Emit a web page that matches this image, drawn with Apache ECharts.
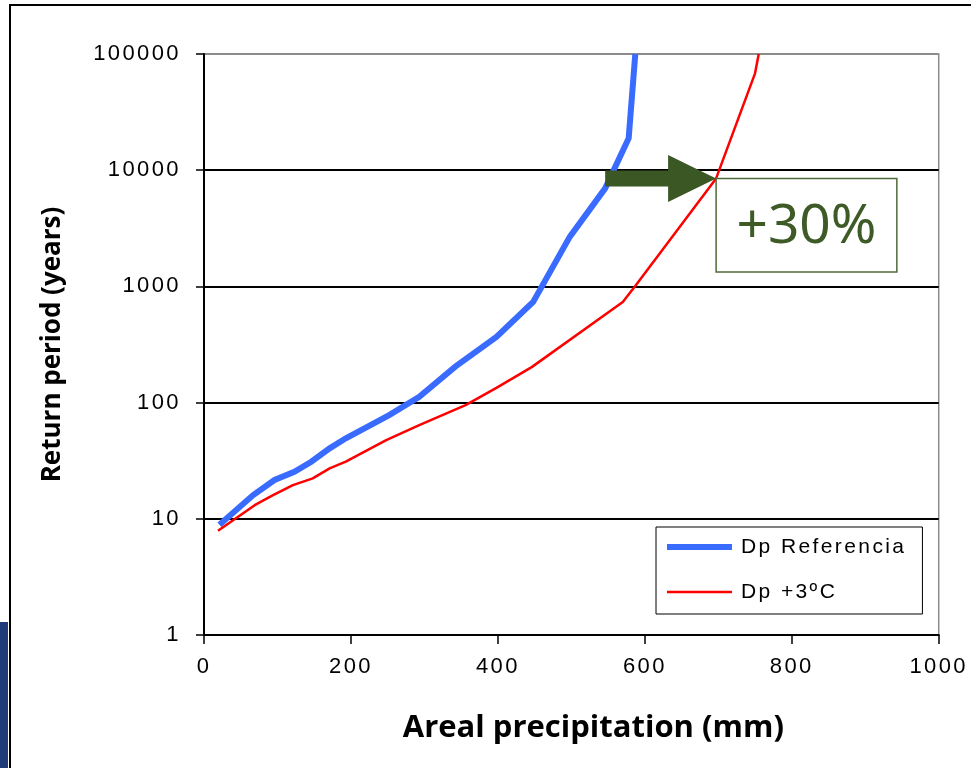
<!DOCTYPE html>
<html>
<head>
<meta charset="utf-8">
<script src="https://cdn.jsdelivr.net/npm/echarts@6/dist/echarts.min.js"></script>
<style>
  html, body { margin: 0; padding: 0; background: #fff; }
  #main { width: 971px; height: 768px; }
</style>
</head>
<body>
<div id="main"></div>
<script>
// precipitation (mm) / return period (years)
var refX = [21, 67, 96, 123, 146, 171, 193, 252, 293, 342, 398, 448, 498, 546, 578, 587];
var refY = [8.9, 16, 21.6, 25.4, 31, 40.4, 49.3, 78, 112, 204, 367, 735, 2680, 6980, 18800, 100000];
var warmX = [19, 69, 94, 121, 148, 171, 193, 248, 293, 356, 398, 446, 570, 588, 697, 750, 755];
var warmY = [7.9, 13.1, 16, 19.5, 22.3, 27.2, 31, 47.6, 64, 95, 134, 202, 735, 1030, 8500, 68200, 100000];
var seriesNames = ['Dp Referencia', 'Dp +3ºC'];
var yTicks = [1, 10, 100, 1000, 10000, 100000];
var xTicks = [0, 200, 400, 600, 800, 1000];

// annotation anchors in data units
var arrowFrom = [546, 8500];
var arrowTo = [697, 8500];
var boxFar = [943, 1330];
var boxText = '+30%';

// the excel labels are drawn with wide letter spacing
var LABEL_FONT = 'Liberation Sans';
function spacing(ctx) {
    if (ctx.font.indexOf(LABEL_FONT) >= 0 && !/bold|700/.test(ctx.font)) {
        ctx.letterSpacing = '2.4px';
    } else {
        ctx.letterSpacing = '0px';
    }
}
var origFill = CanvasRenderingContext2D.prototype.fillText;
CanvasRenderingContext2D.prototype.fillText = function () {
    spacing(this);
    return origFill.apply(this, arguments);
};
var origMeasure = CanvasRenderingContext2D.prototype.measureText;
CanvasRenderingContext2D.prototype.measureText = function () {
    spacing(this);
    return origMeasure.apply(this, arguments);
};

function pairs(xs, ys) {
    var out = [];
    for (var i = 0; i < xs.length; i++) {
        out.push([xs[i], ys[i]]);
    }
    return out;
}

var chartDom = document.getElementById('main');
var myChart = echarts.init(chartDom);
var option;

option = {
    animation: false,
    backgroundColor: '#fff',
    grid: {
        left: 204,
        right: 26,
        top: 54,
        bottom: 133,
        show: true,
        borderColor: '#8c8c8c',
        borderWidth: 1.5
    },
    legend: {
        orient: 'vertical',
        left: 656,
        top: 527,
        data: [
            { name: seriesNames[0], icon: 'path://M0,0L65,0L65,6L0,6Z' },
            { name: seriesNames[1], icon: 'path://M0,0L65,0L65,2.6L0,2.6Z' }
        ],
        itemWidth: 65,
        itemHeight: 14,
        itemGap: 21,
        padding: [8, 16, 10, 11],
        borderColor: '#000',
        borderWidth: 1,
        backgroundColor: '#fff',
        textStyle: {
            fontFamily: LABEL_FONT,
            fontSize: 21,
            color: '#000',
            lineHeight: 24,
            padding: [0, 0, 0, 4]
        }
    },
    xAxis: {
        type: 'value',
        min: xTicks[0],
        max: xTicks[xTicks.length - 1],
        interval: 200,
        name: 'Areal precipitation (mm)',
        nameLocation: 'middle',
        nameGap: 78,
        nameTextStyle: {
            fontFamily: 'Open Sans',
            fontWeight: 'bold',
            fontSize: 31,
            color: '#000',
            padding: [0, 0, 0, 44]
        },
        axisLine: { lineStyle: { color: '#000', width: 2 } },
        axisTick: { show: true, length: 9, lineStyle: { color: '#000', width: 1.5 } },
        axisLabel: {
            margin: 20,
            fontFamily: LABEL_FONT,
            fontSize: 22,
            color: '#000',
            formatter: function (v) { return String(v); }
        },
        splitLine: { show: false }
    },
    yAxis: {
        type: 'log',
        logBase: 10,
        min: yTicks[0],
        max: yTicks[yTicks.length - 1],
        splitNumber: 5,
        name: 'Return period (years)',
        nameLocation: 'middle',
        nameGap: 138,
        nameTextStyle: {
            fontFamily: 'Open Sans',
            fontWeight: 'bold',
            fontSize: 26,
            color: '#000'
        },
        axisLine: { show: true, lineStyle: { color: '#000', width: 2 } },
        axisTick: { show: true, length: 8, lineStyle: { color: '#000', width: 1.5 } },
        axisLabel: {
            margin: 23,
            fontFamily: LABEL_FONT,
            fontSize: 22,
            color: '#000',
            formatter: function (v) { return String(Math.round(v)); }
        },
        splitLine: {
            show: true,
            lineStyle: {
                width: 2,
                color: ['#000', '#000', '#000', '#000', '#000', '#8c8c8c']
            }
        }
    },
    series: [
        {
            name: seriesNames[0],
            type: 'line',
            symbol: 'none',
            color: '#3a6bff',
            lineStyle: { width: 6, color: '#3a6bff', join: 'miter' },
            data: pairs(refX, refY),
            z: 3
        },
        {
            name: seriesNames[1],
            type: 'line',
            symbol: 'none',
            color: '#ff0000',
            lineStyle: { width: 2.5, color: '#ff0000' },
            data: pairs(warmX, warmY),
            z: 4
        }
    ]
};

option && myChart.setOption(option);

// arrow + "+30%" box, placed through the axes
var a = myChart.convertToPixel({ gridIndex: 0 }, arrowFrom);
var b = myChart.convertToPixel({ gridIndex: 0 }, arrowTo);
var c = myChart.convertToPixel({ gridIndex: 0 }, boxFar);
var headLen = 48;
var xh = b[0] - headLen;
var green = '#3b5724';

myChart.setOption({
    graphic: [
        {
            type: 'rect',
            shape: { x: 10, y: 5, width: 980, height: 780 },
            style: { fill: 'none', stroke: '#000', lineWidth: 2 },
            z: 100
        },
        {
            type: 'rect',
            shape: { x: 0, y: 622, width: 8, height: 146 },
            style: { fill: '#1f3b78' },
            z: 100
        },
        {
            type: 'rect',
            shape: { x: b[0], y: b[1], width: c[0] - b[0], height: c[1] - b[1] },
            style: { fill: '#fff', stroke: '#4d6b38', lineWidth: 1.5 },
            z: 100
        },
        {
            type: 'text',
            x: (b[0] + c[0]) / 2,
            y: (b[1] + c[1]) / 2 + 2,
            style: {
                text: boxText,
                font: '55px "Noto Sans"',
                fill: '#3d5a27',
                align: 'center',
                verticalAlign: 'middle',
                textAlign: 'center',
                textVerticalAlign: 'middle'
            },
            z: 101
        },
        {
            type: 'polygon',
            shape: {
                points: [
                    [a[0], a[1] - 8],
                    [xh, a[1] - 8],
                    [xh, b[1] - 23.5],
                    [b[0], b[1]],
                    [xh, b[1] + 23.5],
                    [xh, a[1] + 8],
                    [a[0], a[1] + 8]
                ]
            },
            style: { fill: green },
            z: 101
        }
    ]
});
</script>
</body>
</html>
